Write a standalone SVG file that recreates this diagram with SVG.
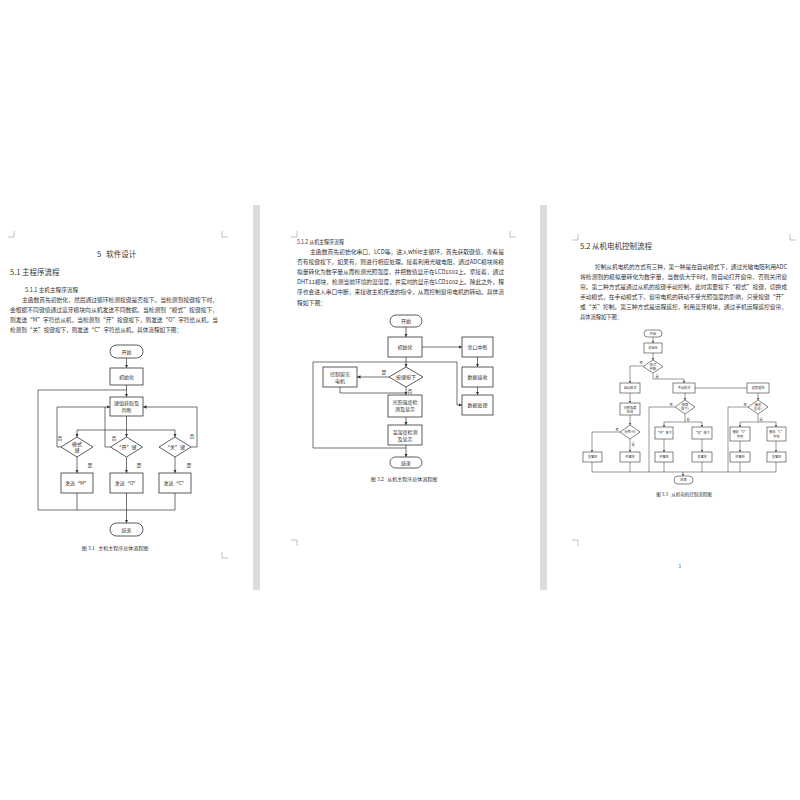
<svg xmlns="http://www.w3.org/2000/svg" width="800" height="800" viewBox="0 0 800 800">
<style>
text{font-family:"Noto Sans CJK SC","Noto Sans",sans-serif;fill:#333;white-space:pre}
.h1{font-size:7.5px}
.p{font-size:5.6px}
.c{font-size:5px;text-anchor:middle}
.s{font-size:3.2px;text-anchor:middle}
.b{fill:#fff;stroke:#333;stroke-width:0.8}
.b3{fill:#fff;stroke:#333;stroke-width:0.6}
.l{fill:none;stroke:#333;stroke-width:0.7}
.l3{fill:none;stroke:#333;stroke-width:0.5}
.m{fill:none;stroke:#999;stroke-width:0.6}
.bar{fill:#dcdcdc}
</style>
<defs>
<marker id="a" viewBox="0 0 6 6" refX="6" refY="3" markerWidth="3.5" markerHeight="3.5" markerUnits="userSpaceOnUse" orient="auto"><path d="M0,0L6,3L0,6Z" fill="#333"/></marker>
<marker id="a3" viewBox="0 0 6 6" refX="6" refY="3" markerWidth="2.5" markerHeight="2.5" markerUnits="userSpaceOnUse" orient="auto"><path d="M0,0L6,3L0,6Z" fill="#333"/></marker>
</defs>
<rect width="800" height="800" fill="#fff"/>
<rect class="bar" x="253" y="205" width="7" height="385"/>
<rect class="bar" x="540" y="205" width="7" height="385"/>
<g id="marks">
<path class="m" d="M8,237H14V231M222,231V237H228"/>
<path class="m" d="M222,552V558H228"/>
<path class="m" d="M291,237H297V231M510,231V237H516"/>
<path class="m" d="M291,540H297V546"/>
<path class="m" d="M572,240H578V234M790,234V240H796"/>
<path class="m" d="M572,540H578V546"/>
</g>
<g id="page1-text">
<text class="h1" x="97" y="257">5   软件设计</text>
<text class="h1" x="10" y="275">5.1 主程序流程</text>
<text class="p" x="25" y="292" textLength="53" lengthAdjust="spacingAndGlyphs">5.1.1 主机主程序流程</text>
<text class="p" x="22" y="302" textLength="196" lengthAdjust="spacingAndGlyphs">主函数首先初始化，然后通过循环检测按键是否按下。当检测到按键按下时，</text>
<text class="p" x="10" y="312" textLength="208" lengthAdjust="spacingAndGlyphs">会根据不同键值通过蓝牙模块向从机发送不同数据。当检测到“模式”按键按下，</text>
<text class="p" x="10" y="322" textLength="208" lengthAdjust="spacingAndGlyphs">则发送“M”字符给从机，当检测到“开”按键按下，则发送“O”字符给从机，当</text>
<text class="p" x="10" y="332" textLength="172" lengthAdjust="spacingAndGlyphs">检测到“关”按键按下，则发送“C”字符给从机。具体流程如下图：</text>
<text class="c" x="115" y="550">图 3.1   主机主程序总体流程图</text>
</g>
<g id="p1-connectors">
<path class="l" d="M126.5,358V368" marker-end="url(#a)"/>
<path class="l" d="M126.5,385V397" marker-end="url(#a)"/>
<path class="l" d="M126.5,510H38V390H126.5"/>
<path class="l" d="M126.5,416V430M77,430H175"/>
<path class="l" d="M77,430V437" marker-end="url(#a)"/>
<path class="l" d="M126.5,430V437" marker-end="url(#a)"/>
<path class="l" d="M175,430V437" marker-end="url(#a)"/>
<path class="l" d="M61,447H57V407H110" marker-end="url(#a)"/>
<path class="l" d="M110.5,447H105V407"/>
<path class="l" d="M191,447H197V407H143" marker-end="url(#a)"/>
<path class="l" d="M77,457V473" marker-end="url(#a)"/>
<path class="l" d="M126.5,457V473" marker-end="url(#a)"/>
<path class="l" d="M175,457V473" marker-end="url(#a)"/>
<path class="l" d="M77,493V510M126.5,493V510M175,493V510H126.5"/>
<path class="l" d="M126.5,510V523" marker-end="url(#a)"/>
<text class="c" x="60" y="440">否</text>
<text class="c" x="114" y="440">否</text>
<text class="c" x="192" y="438">否</text>
<text class="c" x="90" y="467">是</text>
<text class="c" x="139" y="467">是</text>
<text class="c" x="189" y="467">是</text>
</g>
<g id="p1-start"><rect class="b" x="110" y="345" width="33" height="13" rx="6.5"/><text class="c" x="126.5" y="353.5">开始</text></g>
<g id="p1-init"><rect class="b" x="110" y="368" width="33" height="17"/><text class="c" x="126.5" y="378.5">初始化</text></g>
<g id="p1-key"><rect class="b" x="110" y="397" width="33" height="19"/><text class="c" x="126.5" y="405">键值获取及</text><text class="c" x="126.5" y="412">判断</text></g>
<g id="p1-d1"><path class="b" d="M77,437L93,447L77,457L61,447Z"/><text class="c" x="77" y="446">模式</text><text class="c" x="77" y="452">键</text></g>
<g id="p1-d2"><path class="b" d="M126.5,437L142.5,447L126.5,457L110.5,447Z"/><text class="c" x="126.5" y="449">“开”键</text></g>
<g id="p1-d3"><path class="b" d="M175,437L191,447L175,457L159,447Z"/><text class="c" x="175" y="449">“关”键</text></g>
<g id="p1-m"><rect class="b" x="61" y="473" width="32" height="20"/><text class="c" x="77" y="485">发送“M”</text></g>
<g id="p1-o"><rect class="b" x="110" y="473" width="33" height="20"/><text class="c" x="126.5" y="485">发送“O”</text></g>
<g id="p1-cc"><rect class="b" x="159" y="473" width="32" height="20"/><text class="c" x="175" y="485">发送“C”</text></g>
<g id="p1-end"><rect class="b" x="110" y="523" width="33" height="13" rx="6.5"/><text class="c" x="126.5" y="531.5">结束</text></g>
<g id="page2-text">
<text class="p" x="297" y="244" textLength="47" lengthAdjust="spacingAndGlyphs">5.1.2 从机主程序流程</text>
<text class="p" x="310" y="254" textLength="194" lengthAdjust="spacingAndGlyphs">主函数首先初始化串口、LCD等，进入while主循环，首先获取键值，查看是</text>
<text class="p" x="297" y="264" textLength="207" lengthAdjust="spacingAndGlyphs">否有按键按下，如果有，则进行相应处理。接着利用光敏电阻，通过ADC模块将模</text>
<text class="p" x="297" y="274" textLength="207" lengthAdjust="spacingAndGlyphs">拟量转化为数字量从而检测光照强度，并把数值显示在LCD1602上。紧接着，通过</text>
<text class="p" x="297" y="284" textLength="207" lengthAdjust="spacingAndGlyphs">DHT11模块，检测当前环境的温湿度，并实时的显示在LCD1602上。除此之外，程</text>
<text class="p" x="297" y="294" textLength="207" lengthAdjust="spacingAndGlyphs">序也会进入串口中断，来接收主机传送的指令，从而控制窗帘电机的转动。具体流</text>
<text class="p" x="297" y="305" textLength="29" lengthAdjust="spacingAndGlyphs">程如下图：</text>
<text class="c" x="404" y="481">图 3.2   从机主程序总体流程图</text>
</g>
<g id="p2-connectors">
<path class="l" d="M406,327V337" marker-end="url(#a)"/>
<path class="l" d="M422,347H462" marker-end="url(#a)"/>
<path class="l" d="M477.5,357V367" marker-end="url(#a)"/>
<path class="l" d="M477.5,387V395" marker-end="url(#a)"/>
<path class="l" d="M406,357V367" marker-end="url(#a)"/>
<path class="l" d="M406,448H313V362H457V405H462" marker-end="url(#a)"/>
<path class="l" d="M389,377H357" marker-end="url(#a)"/>
<path class="l" d="M340,387V393H406"/>
<path class="l" d="M406,387V395" marker-end="url(#a)"/>
<path class="l" d="M406,417V425" marker-end="url(#a)"/>
<path class="l" d="M406,445V457" marker-end="url(#a)"/>
<text class="c" x="384" y="374">是</text>
<text class="c" x="410" y="393">否</text>
</g>
<g id="p2-start"><rect class="b" x="390" y="315" width="32" height="12" rx="6"/><text class="c" x="406" y="323">开始</text></g>
<g id="p2-init"><rect class="b" x="388" y="337" width="34" height="20"/><text class="c" x="405" y="349">初始化</text></g>
<g id="p2-uart"><rect class="b" x="462" y="337" width="31" height="20"/><text class="c" x="477.5" y="349">串口中断</text></g>
<g id="p2-recv"><rect class="b" x="462" y="367" width="31" height="20"/><text class="c" x="477.5" y="379">数据接收</text></g>
<g id="p2-proc"><rect class="b" x="462" y="395" width="31" height="20"/><text class="c" x="477.5" y="407">数据处理</text></g>
<g id="p2-dia"><path class="b" d="M406,367L423,377L406,387L389,377Z"/><text class="c" x="406" y="379">按键按下</text></g>
<g id="p2-motor"><rect class="b" x="323" y="367" width="34" height="20"/><text class="c" x="340" y="375.5">控制窗帘</text><text class="c" x="340" y="382.5">电机</text></g>
<g id="p2-light"><rect class="b" x="388" y="395" width="34" height="22"/><text class="c" x="405" y="404">光照强度检</text><text class="c" x="405" y="411">测及显示</text></g>
<g id="p2-temp"><rect class="b" x="388" y="425" width="34" height="20"/><text class="c" x="405" y="433.5">温湿度检测</text><text class="c" x="405" y="440.5">及显示</text></g>
<g id="p2-end"><rect class="b" x="390" y="457" width="32" height="11" rx="5.5"/><text class="c" x="406" y="464.5">结束</text></g>
<g id="page3-text">
<text class="h1" x="580" y="249">5.2 从机电机控制流程</text>
<text class="p" x="595" y="269" textLength="192" lengthAdjust="spacingAndGlyphs">控制从机电机的方式有三种，第一种是在自动模式下，通过光敏电阻利用ADC</text>
<text class="p" x="580" y="279" textLength="207" lengthAdjust="spacingAndGlyphs">将检测到的模拟量转化为数字量，当数值大于6时，则自动打开窗帘，否则关闭窗</text>
<text class="p" x="580" y="289" textLength="207" lengthAdjust="spacingAndGlyphs">帘。第二种方式是通过从机的按键手动控制，此时需要按下“模式”按键，切换成</text>
<text class="p" x="580" y="299" textLength="207" lengthAdjust="spacingAndGlyphs">手动模式，在手动模式下，窗帘电机的转动不受光照强度的影响，只受按键“开”</text>
<text class="p" x="580" y="309" textLength="207" lengthAdjust="spacingAndGlyphs">或“关”控制。第三种方式是远程遥控，利用蓝牙模块，通过手机远程遥控窗帘，</text>
<text class="p" x="580" y="319" textLength="42" lengthAdjust="spacingAndGlyphs">具体流程如下图：</text>
<text class="c" x="684" y="496" style="font-size:4.5px">图 3.3   从机电机控制流程图</text>
<text class="c" x="680" y="568">1</text>
</g>
<g id="p3-connectors">
<path class="l3" d="M653,337V343" marker-end="url(#a3)"/>
<path class="l3" d="M653,353V360" marker-end="url(#a3)"/>
<path class="l3" d="M643,366H630V383" marker-end="url(#a3)"/>
<path class="l3" d="M653,373V379H684V383" marker-end="url(#a3)"/>
<path class="l3" d="M695,388H747"/>
<path class="l3" d="M630,393V403" marker-end="url(#a3)"/>
<path class="l3" d="M630,415V425" marker-end="url(#a3)"/>
<path class="l3" d="M621,432H592V452" marker-end="url(#a3)"/>
<path class="l3" d="M630,439V452" marker-end="url(#a3)"/>
<path class="l3" d="M685,393V400" marker-end="url(#a3)"/>
<path class="l3" d="M675,407H649V472"/>
<path class="l3" d="M685,414V422M664,422H702"/>
<path class="l3" d="M664,422V427" marker-end="url(#a3)"/>
<path class="l3" d="M702,422V427" marker-end="url(#a3)"/>
<path class="l3" d="M664,439V452" marker-end="url(#a3)"/>
<path class="l3" d="M702,439V452" marker-end="url(#a3)"/>
<path class="l3" d="M758,393V400" marker-end="url(#a3)"/>
<path class="l3" d="M749,407H728V472"/>
<path class="l3" d="M758,414V422M740,422H776"/>
<path class="l3" d="M740,422V427" marker-end="url(#a3)"/>
<path class="l3" d="M776,422V427" marker-end="url(#a3)"/>
<path class="l3" d="M740,441V452" marker-end="url(#a3)"/>
<path class="l3" d="M776,441V452" marker-end="url(#a3)"/>
<path class="l3" d="M592,462V472M630,462V472M664,462V472M702,462V472M740,462V472M776,462V472M592,472H776"/>
<path class="l3" d="M683,472V476" marker-end="url(#a3)"/>
<text class="s" x="641" y="364">否</text>
<text class="s" x="657" y="378">是</text>
<text class="s" x="617" y="431">否</text>
<text class="s" x="633" y="446">是</text>
<text class="s" x="671" y="406">否</text>
<text class="s" x="688" y="421">是</text>
<text class="s" x="745" y="406">否</text>
<text class="s" x="761" y="421">是</text>
</g>
<g id="p3-start"><rect class="b3" x="644" y="330" width="18" height="7" rx="3.5"/><text class="s" x="653" y="334.6">开始</text></g>
<g id="p3-init"><rect class="b3" x="644" y="343" width="18" height="10"/><text class="s" x="653" y="349">初始化</text></g>
<g id="p3-d1"><path class="b3" d="M653,360L663,366.5L653,373L643,366.5Z"/><text class="s" x="653" y="365.5">模式</text><text class="s" x="653" y="369.5">判断</text></g>
<g id="p3-auto"><rect class="b3" x="620" y="383" width="20" height="10"/><text class="s" x="630" y="389">自动模式</text></g>
<g id="p3-light"><rect class="b3" x="620" y="403" width="20" height="12"/><text class="s" x="630" y="408.5">光照强度</text><text class="s" x="630" y="412.5">检测</text></g>
<g id="p3-d2"><path class="b3" d="M630,425L640,432L630,439L620,432Z"/><text class="s" x="630" y="433">光照&gt;6?</text></g>
<g id="p3-close1"><rect class="b3" x="583" y="452" width="19" height="10"/><text class="s" x="592.5" y="458">关窗帘</text></g>
<g id="p3-open1"><rect class="b3" x="620" y="452" width="20" height="10"/><text class="s" x="630" y="458">开窗帘</text></g>
<g id="p3-manual"><rect class="b3" x="673" y="383" width="22" height="10"/><text class="s" x="684" y="389">手动模式</text></g>
<g id="p3-d3"><path class="b3" d="M685,400L695,407L685,414L675,407Z"/><text class="s" x="685" y="406">按键</text><text class="s" x="685" y="410">按下?</text></g>
<g id="p3-on"><rect class="b3" x="655" y="427" width="18" height="12"/><text class="s" x="664" y="434">“开”按下</text></g>
<g id="p3-off"><rect class="b3" x="692" y="427" width="20" height="12"/><text class="s" x="702" y="434">“关”按下</text></g>
<g id="p3-open2"><rect class="b3" x="655" y="452" width="18" height="10"/><text class="s" x="664" y="458">开窗帘</text></g>
<g id="p3-close2"><rect class="b3" x="692" y="452" width="20" height="10"/><text class="s" x="702" y="458">关窗帘</text></g>
<g id="p3-remote"><rect class="b3" x="747" y="383" width="22" height="10"/><text class="s" x="758" y="389">远程遥控</text></g>
<g id="p3-d4"><path class="b3" d="M758,400L768,407L758,414L748,407Z"/><text class="s" x="758" y="406">接收</text><text class="s" x="758" y="410">指令?</text></g>
<g id="p3-ro"><rect class="b3" x="730" y="427" width="20" height="14"/><text class="s" x="740" y="433">接收“O”</text><text class="s" x="740" y="437.5">字符</text></g>
<g id="p3-rc"><rect class="b3" x="767" y="427" width="19" height="14"/><text class="s" x="776.5" y="433">接收“C”</text><text class="s" x="776.5" y="437.5">字符</text></g>
<g id="p3-open3"><rect class="b3" x="730" y="452" width="20" height="10"/><text class="s" x="740" y="458">开窗帘</text></g>
<g id="p3-close3"><rect class="b3" x="767" y="452" width="19" height="10"/><text class="s" x="776.5" y="458">关窗帘</text></g>
<g id="p3-end"><rect class="b3" x="674" y="476" width="19" height="8" rx="4"/><text class="s" x="683.5" y="481">结束</text></g>
</svg>
